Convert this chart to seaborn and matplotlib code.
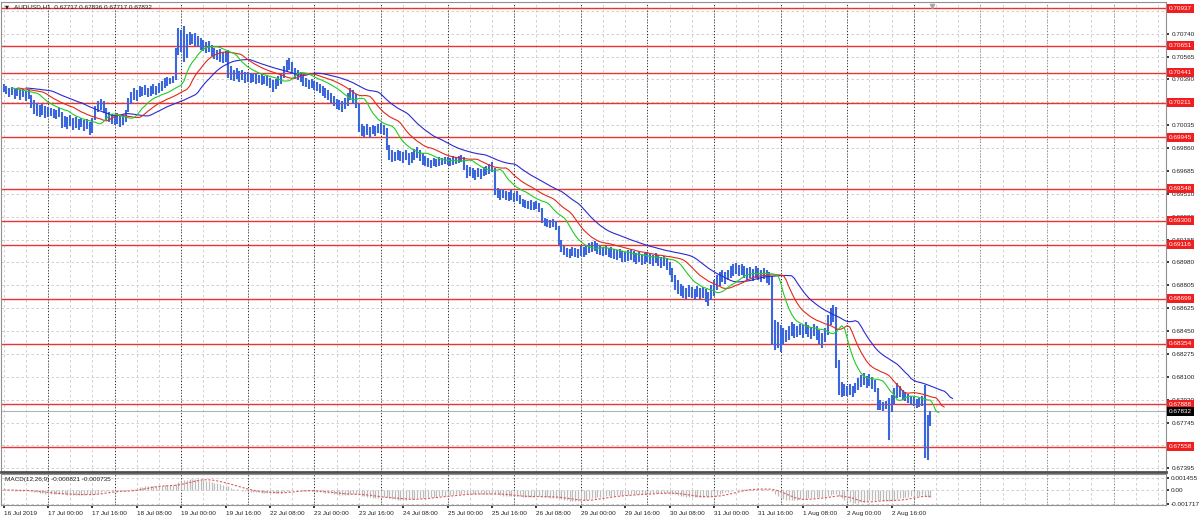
import matplotlib
matplotlib.use("Agg")
import matplotlib.pyplot as plt
import matplotlib.transforms as mtransforms
import numpy as np
import pandas as pd
import seaborn as sns

# AUDUSD H1 bars, in points (1e-5). 16 Jul starts at 08:00.
HIGH_PTS = [
    # 16 Jul
    70355, 70340, 70324, 70332, 70317, 70324, 70308, 70317, 70300, 70308, 70269, 70231, 70208, 70192, 70200, 70185,
    # 17 Jul
    70177, 70169, 70162, 70154, 70169, 70139, 70108, 70100, 70115, 70092, 70100, 70085,
    70092, 70077, 70085, 70062, 70092, 70185, 70223, 70239, 70223, 70169, 70139, 70123,
    # 18 Jul
    70115, 70131, 70108, 70123, 70154, 70246, 70293, 70324, 70308, 70340, 70332, 70347,
    70324, 70340, 70355, 70340, 70363, 70378, 70401, 70409, 70401, 70416, 70632, 70786,
    # 19 Jul
    70771, 70802, 70740, 70755, 70740, 70748, 70725, 70709, 70694, 70678, 70686, 70655,
    70632, 70617, 70624, 70601, 70609, 70617, 70493, 70463, 70478, 70455, 70463, 70447,
    # 22 Jul
    70447, 70440, 70432, 70440, 70424, 70432, 70416, 70424, 70401, 70386, 70393, 70416,
    70432, 70493, 70540, 70555, 70524, 70478, 70463, 70447, 70416, 70401, 70386, 70393,
    # 23 Jul
    70378, 70370, 70355, 70340, 70324, 70308, 70285, 70262, 70239, 70231, 70223, 70246,
    70285, 70324, 70308, 70277, 70200, 70046, 70031, 70046, 70023, 70038, 70031, 70046,
    # 24 Jul
    70054, 70038, 70015, 69885, 69846, 69831, 69846, 69838, 69831, 69846, 69823, 69831,
    69854, 69869, 69846, 69823, 69800, 69784, 69769, 69784, 69777, 69792, 69784, 69792,
    # 25 Jul
    69792, 69784, 69800, 69792, 69800, 69808, 69792, 69731, 69715, 69707, 69692, 69707,
    69700, 69715, 69723, 69738, 69754, 69707, 69553, 69538, 69546, 69530, 69523, 69538,
    # 26 Jul
    69515, 69530, 69500, 69469, 69461, 69453, 69461, 69446, 69453, 69438, 69399, 69322,
    69314, 69306, 69314, 69299, 69260, 69152, 69106, 69091, 69083, 69098, 69091, 69083,
    # 29 Jul
    69106, 69098, 69114, 69129, 69137, 69145, 69129, 69114, 69098, 69106, 69091, 69098,
    69083, 69075, 69083, 69068, 69060, 69075, 69083, 69068, 69052, 69060, 69044, 69052,
    # 30 Jul
    69060, 69044, 69037, 69052, 69037, 69021, 69029, 69014, 68983, 68937, 68883, 68844,
    68813, 68798, 68782, 68806, 68790, 68775, 68798, 68782, 68790, 68775, 68752, 68806,
    # 31 Jul
    68844, 68883, 68906, 68921, 68906, 68921, 68952, 68967, 68975, 68960, 68967, 68952,
    68937, 68944, 68929, 68952, 68937, 68921, 68937, 68921, 68906, 68875, 68536, 68520,
    # 1 Aug
    68497, 68474, 68459, 68490, 68520, 68505, 68490, 68505, 68497, 68520, 68497, 68482,
    68505, 68490, 68459, 68436, 68474, 68574, 68628, 68651, 68636, 68228, 68058, 68042,
    # 2 Aug
    68027, 68042, 68027, 68050, 68089, 68112, 68127, 68104, 68120, 68096, 68073, 68011,
    67919, 67904, 67911, 67935, 67958, 68011, 68050, 68027, 67996, 67981, 67965, 67950,
    67942, 67927, 67935, 67950, 68035, 67804, 67836,
]

LOW_PTS = [
    # 16 Jul
    70293, 70277, 70254, 70269, 70239, 70262, 70231, 70254, 70223, 70239, 70169, 70123, 70108, 70100, 70115, 70092,
    # 17 Jul
    70100, 70108, 70092, 70085, 70100, 70015, 70023, 70008, 70031, 70000, 70015, 70000,
    70023, 69992, 70008, 69962, 69977, 70077, 70139, 70154, 70131, 70077, 70062, 70046,
    # 18 Jul
    70038, 70046, 70023, 70038, 70062, 70139, 70200, 70231, 70223, 70254, 70262, 70269,
    70254, 70262, 70277, 70269, 70285, 70300, 70324, 70340, 70355, 70363, 70386, 70578,
    # 19 Jul
    70601, 70524, 70555, 70655, 70663, 70648, 70640, 70617, 70609, 70594, 70601, 70570,
    70547, 70540, 70524, 70516, 70524, 70401, 70386, 70378, 70393, 70370, 70386, 70363,
    # 22 Jul
    70370, 70363, 70370, 70355, 70363, 70347, 70355, 70340, 70324, 70293, 70317, 70340,
    70355, 70401, 70447, 70463, 70432, 70401, 70386, 70370, 70340, 70332, 70317, 70324,
    # 23 Jul
    70308, 70300, 70285, 70262, 70246, 70231, 70208, 70185, 70162, 70154, 70139, 70162,
    70185, 70231, 70200, 70169, 69985, 69954, 69946, 69962, 69938, 69969, 69954, 69977,
    # 24 Jul
    69969, 69962, 69846, 69769, 69754, 69761, 69769, 69761, 69746, 69769, 69731, 69746,
    69769, 69784, 69761, 69731, 69723, 69715, 69707, 69723, 69715, 69723, 69731, 69738,
    # 25 Jul
    69731, 69723, 69731, 69738, 69746, 69754, 69692, 69631, 69646, 69631, 69615, 69638,
    69623, 69646, 69654, 69661, 69677, 69500, 69476, 69461, 69476, 69461, 69453, 69461,
    # 26 Jul
    69446, 69453, 69430, 69407, 69399, 69392, 69384, 69384, 69392, 69369, 69283, 69260,
    69252, 69245, 69252, 69229, 69114, 69060, 69037, 69021, 69014, 69029, 69021, 69014,
    # 29 Jul
    69029, 69021, 69037, 69052, 69060, 69068, 69044, 69037, 69029, 69037, 69021, 69014,
    69006, 68998, 69014, 68983, 68983, 68991, 68998, 68983, 68967, 68983, 68960, 68967,
    # 30 Jul
    68983, 68967, 68952, 68975, 68952, 68937, 68952, 68921, 68883, 68829, 68767, 68736,
    68721, 68705, 68698, 68713, 68705, 68690, 68713, 68698, 68705, 68675, 68644, 68690,
    # 31 Jul
    68721, 68767, 68798, 68829, 68813, 68844, 68860, 68875, 68890, 68875, 68883, 68860,
    68844, 68860, 68836, 68860, 68844, 68829, 68852, 68821, 68806, 68343, 68305, 68320,
    # 1 Aug
    68289, 68343, 68366, 68382, 68413, 68397, 68405, 68420, 68397, 68428, 68405, 68390,
    68413, 68382, 68351, 68320, 68366, 68420, 68497, 68520, 68166, 67958, 67942, 67950,
    # 2 Aug
    67950, 67958, 67942, 67973, 67996, 68019, 68035, 68011, 68027, 68004, 67981, 67842,
    67842, 67834, 67850, 67611, 67827, 67888, 67935, 67942, 67919, 67911, 67896, 67881,
    67873, 67858, 67865, 67873, 67473, 67457, 67717,
]

LEVELS = [0.70937, 0.70651, 0.70441, 0.70211, 0.69945, 0.69548, 0.69300,
          0.69116, 0.68699, 0.68354, 0.67888, 0.67558]
LAST_PRICE = 0.67832

# grid rows of the price scale; the ones fully under a level box carry no label
PRICE_TICKS = [0.70915, 0.70740, 0.70565, 0.70390, 0.70215, 0.70035, 0.69860,
               0.69685, 0.69510, 0.69330, 0.69155, 0.68980, 0.68805, 0.68625,
               0.68450, 0.68275, 0.68100, 0.67920, 0.67745, 0.67570, 0.67395]
HIDDEN_TICKS = [0.70915, 0.70215, 0.67570]
MACD_TICKS = [0.001455, 0.0, -0.001717]
MACD_TICK_LABELS = ["0.001455", "0.00", "-0.001717"]

TIME_LABELS = ["16 Jul 2019", "17 Jul 00:00", "17 Jul 16:00", "18 Jul 08:00",
               "19 Jul 00:00", "19 Jul 16:00", "22 Jul 08:00", "23 Jul 00:00",
               "23 Jul 16:00", "24 Jul 08:00", "25 Jul 00:00", "25 Jul 16:00",
               "26 Jul 08:00", "29 Jul 00:00", "29 Jul 16:00", "30 Jul 08:00",
               "31 Jul 00:00", "31 Jul 16:00", "1 Aug 08:00", "2 Aug 00:00",
               "2 Aug 16:00"]

TITLE = "AUDUSD,H1  0.67717 0.67836 0.67717 0.67832"
MACD_TITLE = "MACD(12,26,9) -0.000821 -0.000735"

BAR_BLUE = "#3b66dc"
LEVEL_RED = "#e8352f"
GRID = "#c9c9c9"
FS = 4.6

sns.set_theme(style="white")
plt.rcParams["font.family"] = ["Liberation Sans", "DejaVu Sans"]

high = np.array(HIGH_PTS) / 1e5
low = np.array(LOW_PTS) / 1e5
idx = np.arange(len(high))
median = pd.Series((high + low) / 2)


def smma(s, n):
    return s.ewm(alpha=1.0 / n, adjust=False).mean()


# Alligator: jaw 13/8, teeth 8/5, lips 5/3 on median price
jaw = smma(median, 13)
teeth = smma(median, 8)
lips = smma(median, 5)

# MACD 12,26,9
macd = median.ewm(span=12, adjust=False).mean() - median.ewm(span=26, adjust=False).mean()
signal = macd.rolling(9, min_periods=1).mean()

W, H = 1200, 524
fig = plt.figure(figsize=(W / 100, H / 100), dpi=100)
ax = fig.add_axes([1 / W, 1 - 472 / H, 1165 / W, 470 / H])
ax2 = fig.add_axes([1 / W, 1 - 505 / H, 1165 / W, 31 / H])

xlim = (-0.94, 418.9)
for a in (ax, ax2):
    a.set_xlim(*xlim)
    a.set_facecolor("white")
    for x in range(0, 420, 8):
        a.axvline(x, color=GRID, lw=0.6, ls=(0, (3, 3)), zorder=0)
    for x in range(16, 420, 24):
        col = "#202020" if x <= len(idx) else "#808080"
        a.axvline(x, color=col, lw=0.7, ls=(0, (1, 2)), zorder=0.5)

# main panel
ax.set_ylim(0.67364, 0.70987)
for t in PRICE_TICKS:
    ax.axhline(t, color=GRID, lw=0.6, ls=(0, (3, 3)), zorder=0)
for lv in LEVELS:
    ax.axhline(lv, color=LEVEL_RED, lw=1.0, zorder=1)
ax.axhline(LAST_PRICE, color="#b4b4b4", lw=0.8, zorder=1)

ax.vlines(idx, low, high, color=BAR_BLUE, lw=1.5, zorder=2)

sns.lineplot(x=idx + 8, y=jaw.values, ax=ax, color="#2a2ad0", lw=0.8,
             estimator=None, sort=False, zorder=3)
sns.lineplot(x=idx + 5, y=teeth.values, ax=ax, color="#e02a1a", lw=0.8,
             estimator=None, sort=False, zorder=3)
sns.lineplot(x=idx + 3, y=lips.values, ax=ax, color="#22cc22", lw=0.8,
             estimator=None, sort=False, zorder=3)

ax.yaxis.tick_right()
ax.set_yticks(PRICE_TICKS)
ax.set_yticklabels(["" if t in HIDDEN_TICKS else f"{t:.5f}" for t in PRICE_TICKS])
ax.tick_params(axis="y", labelsize=FS, length=2, pad=2, colors="#202020",
               right=True, left=False)
ax.set_xticks([])

trans = mtransforms.blended_transform_factory(ax.transAxes, ax.transData)
for lv in LEVELS:
    ax.text(1.0025, lv, f"{lv:.5f}", transform=trans, ha="left", va="center",
            fontsize=FS, color="white", zorder=10, clip_on=False,
            bbox=dict(boxstyle="square,pad=0.3", fc="#f01e1e", ec="none"))
ax.text(1.0025, LAST_PRICE, f"{LAST_PRICE:.5f}", transform=trans, ha="left",
        va="center", fontsize=FS, color="white", zorder=10, clip_on=False,
        bbox=dict(boxstyle="square,pad=0.3", fc="#000000", ec="none"))

# chart shift marker
ax.scatter([len(idx) - 0.5], [0.70960], marker="v", s=9, color="#a8a8a8",
           zorder=5, clip_on=False)

for side in ("left", "top", "right"):
    ax.spines[side].set_color("#909090")
    ax.spines[side].set_linewidth(0.8)
ax.spines["bottom"].set_color("#505050")
ax.spines["bottom"].set_linewidth(2.0)

# MACD panel
ax2.set_ylim(-0.00184, 0.00194)
for t in MACD_TICKS:
    ax2.axhline(t, color=GRID, lw=0.6, ls=(0, (3, 3)), zorder=0)
ax2.vlines(idx, 0, macd.values, color="#bcbcbc", lw=0.9, zorder=2)
sns.lineplot(x=idx, y=signal.values, ax=ax2, color="#e05a5a", lw=0.8,
             ls=(0, (2, 1.5)), estimator=None, sort=False, zorder=3)

ax2.yaxis.tick_right()
ax2.set_yticks(MACD_TICKS)
ax2.set_yticklabels(MACD_TICK_LABELS)
ax2.tick_params(axis="y", labelsize=FS, length=2, pad=1.5, colors="#202020",
                right=True, left=False)
ax2.set_xticks(list(range(0, 16 * len(TIME_LABELS), 16)))
ax2.set_xticklabels(TIME_LABELS, ha="left")
ax2.tick_params(axis="x", labelsize=FS, length=2, pad=2, colors="#202020",
                bottom=True)
for side in ("left", "top", "right", "bottom"):
    ax2.spines[side].set_color("#909090")
    ax2.spines[side].set_linewidth(0.8)

fig.text(5 / W, 1 - 7 / H, "\u25bc", fontsize=3.8, color="#202020",
         va="center", family=["DejaVu Sans"])
fig.text(14 / W, 1 - 7 / H, TITLE, fontsize=FS, color="#202020", va="center")
fig.text(5 / W, 1 - 479 / H, MACD_TITLE, fontsize=FS, color="#202020",
         va="center")

fig.savefig("out.png", dpi=100, facecolor="white")
